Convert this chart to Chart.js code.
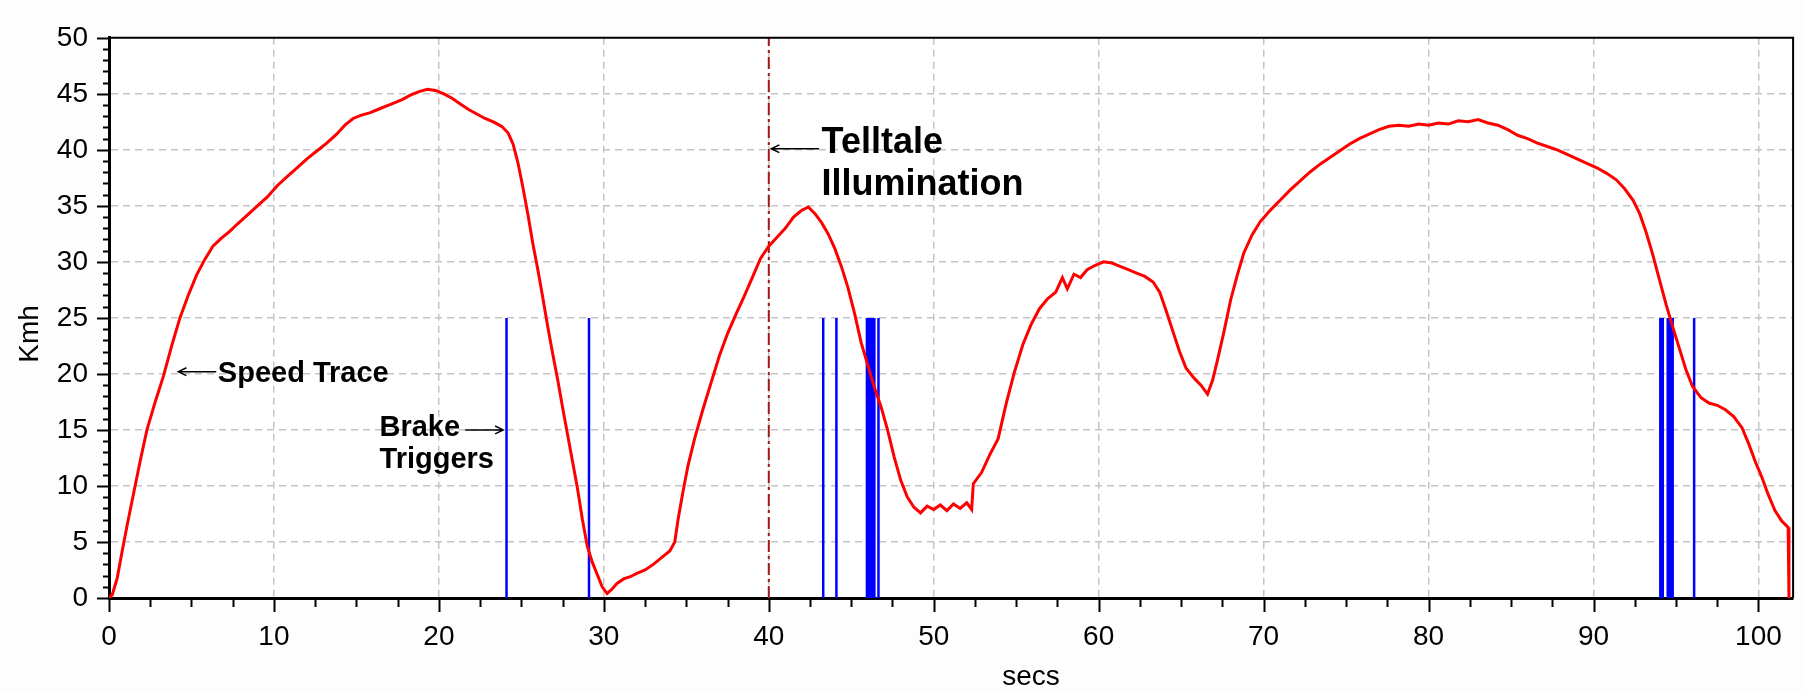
<!DOCTYPE html>
<html>
<head>
<meta charset="utf-8">
<script src="https://cdn.jsdelivr.net/npm/chart.js@4/dist/chart.umd.min.js"></script>
<style>
  html, body { margin: 0; padding: 0; background: #fff; }
</style>
</head>
<body>
<canvas id="speedChart" width="1804" height="691"></canvas>
<script>
// speed trace (secs, Kmh)
const secs = [
  0.0, 0.2, 0.5, 0.8, 1.1, 1.5, 1.9, 2.3, 2.8, 3.3, 3.8, 4.3, 4.8, 5.3, 5.8, 6.3, 6.8, 7.3, 7.8, 8.4,
  9.0, 9.6, 10.2, 10.8, 11.4, 12.0, 12.6, 13.2, 13.8, 14.3, 14.8, 15.3, 15.8, 16.3, 16.8, 17.3, 17.8, 18.3, 18.8, 19.3,
  19.8, 20.3, 20.8, 21.3, 21.8, 22.3, 22.8, 23.3, 23.8, 24.2, 24.5, 24.8, 25.1, 25.4, 25.7, 26.0, 26.3, 26.6, 26.9, 27.2,
  27.5, 27.8, 28.1, 28.4, 28.7, 29.0, 29.3, 29.6, 29.9, 30.2, 30.5, 30.8, 31.2, 31.6, 32.0, 32.5, 33.0, 33.5, 34.0, 34.3,
  34.5, 34.8, 35.1, 35.5, 36.0, 36.5, 37.0, 37.5, 38.0, 38.5, 39.0, 39.5, 40.0, 40.5, 41.0, 41.5, 42.0, 42.4, 42.8, 43.2,
  43.6, 44.0, 44.4, 44.8, 45.2, 45.6, 46.0, 46.4, 46.8, 47.2, 47.6, 48.0, 48.4, 48.8, 49.2, 49.6, 50.0, 50.4, 50.8, 51.2,
  51.6, 52.0, 52.3, 52.4, 52.9, 53.4, 53.9, 54.4, 54.9, 55.4, 55.9, 56.4, 56.9, 57.4, 57.8, 58.1, 58.5, 58.9, 59.3, 59.8,
  60.3, 60.8, 61.3, 61.8, 62.3, 62.8, 63.3, 63.7, 64.1, 64.5, 64.9, 65.3, 65.8, 66.2, 66.6, 66.9, 67.2, 67.6, 68.0, 68.4,
  68.8, 69.3, 69.8, 70.4, 71.0, 71.6, 72.2, 72.8, 73.4, 74.0, 74.6, 75.2, 75.8, 76.4, 77.0, 77.6, 78.2, 78.8, 79.4, 80.0,
  80.6, 81.2, 81.8, 82.4, 83.0, 83.6, 84.2, 84.8, 85.4, 86.0, 86.6, 87.2, 87.8, 88.4, 89.0, 89.6, 90.2, 90.8, 91.4, 91.9,
  92.4, 92.8, 93.2, 93.6, 94.0, 94.4, 94.8, 95.2, 95.6, 96.0, 96.5, 97.0, 97.5, 98.0, 98.5, 99.0, 99.4, 99.8, 100.2, 100.6,
  101.0, 101.4, 101.8, 101.85
];
const kmh = [
  0, 0.3, 1.8, 4.2, 6.5, 9.4, 12.3, 15, 17.5, 19.8, 22.5, 25, 27, 28.8, 30.2, 31.4, 32.1, 32.7, 33.4, 34.2,
  35.0, 35.8, 36.8, 37.6, 38.4, 39.2, 39.9, 40.6, 41.4, 42.2, 42.8, 43.1, 43.3, 43.6, 43.9, 44.2, 44.5, 44.9, 45.2, 45.4,
  45.3, 45.0, 44.6, 44.1, 43.6, 43.2, 42.8, 42.5, 42.1, 41.5, 40.5, 38.8, 36.6, 34.2, 31.6, 29.3, 26.8, 24.2, 21.8, 19.5,
  17.0, 14.6, 12.2, 9.8, 7.0, 4.6, 3.2, 2.1, 1.0, 0.4, 0.8, 1.3, 1.7, 1.9, 2.2, 2.5, 3.0, 3.6, 4.2, 5.0,
  7.0, 9.5, 11.8, 14.2, 16.8, 19.2, 21.6, 23.6, 25.3, 26.9, 28.6, 30.3, 31.4, 32.2, 33.0, 34.0, 34.6, 34.9, 34.3, 33.5,
  32.5, 31.2, 29.6, 27.7, 25.4, 22.8, 20.8, 18.8, 17.1, 15.0, 12.6, 10.5, 9.0, 8.1, 7.6, 8.2, 7.9, 8.3, 7.8, 8.4,
  8.0, 8.5, 7.9, 10.2, 11.2, 12.8, 14.2, 17.4, 20.2, 22.6, 24.4, 25.8, 26.7, 27.3, 28.6, 27.6, 28.9, 28.6, 29.3, 29.7,
  30.0, 29.9, 29.6, 29.3, 29.0, 28.7, 28.2, 27.3, 25.6, 23.8, 22.0, 20.5, 19.6, 19.0, 18.2, 19.4, 21.2, 23.8, 26.6, 28.8,
  30.8, 32.4, 33.6, 34.6, 35.5, 36.4, 37.2, 38.0, 38.7, 39.3, 39.9, 40.5, 41.0, 41.4, 41.8, 42.1, 42.2, 42.1, 42.3, 42.2,
  42.4, 42.3, 42.6, 42.5, 42.7, 42.4, 42.2, 41.8, 41.3, 41.0, 40.6, 40.3, 40.0, 39.6, 39.2, 38.8, 38.4, 37.9, 37.3, 36.5,
  35.5, 34.3, 32.6, 30.6, 28.4, 26.2, 24.2, 22.3, 20.4, 18.9, 17.9, 17.4, 17.2, 16.8, 16.2, 15.2, 13.8, 12.2, 10.8, 9.2,
  7.8, 6.9, 6.3, 0
];
const brakeTriggers = [24.1, 29.1, 43.3, 44.1, 45.95, 46.1, 46.25, 46.4, 46.65, 94.05, 94.2, 94.5, 94.65, 94.8, 96.1];
const brakeLevel = 25;
const telltaleSec = 40;
const xMax = 102.1;
const yMax = 50;

const speedPoints = secs.map((s, i) => ({ x: s, y: kmh[i] }));
const brakePoints = [];
brakeTriggers.forEach(t => {
  brakePoints.push({ x: t, y: 0 }, { x: t, y: brakeLevel }, { x: t, y: null });
});
const telltalePoints = [{ x: telltaleSec, y: 0 }, { x: telltaleSec, y: yMax }];

const FONT = "'Liberation Sans', Arial, sans-serif";

function arrow(ctx, x1, y1, x2, y2) {
  const ang = Math.atan2(y2 - y1, x2 - x1);
  ctx.beginPath();
  ctx.moveTo(x1, y1);
  ctx.lineTo(x2, y2);
  ctx.moveTo(x2 - 9 * Math.cos(ang - 0.45), y2 - 9 * Math.sin(ang - 0.45));
  ctx.lineTo(x2, y2);
  ctx.lineTo(x2 - 9 * Math.cos(ang + 0.45), y2 - 9 * Math.sin(ang + 0.45));
  ctx.stroke();
}

// frame, tick marks, axis titles and the text callouts
const decorations = {
  id: 'decorations',
  afterDraw(chart) {
    const { ctx, chartArea: a } = chart;
    const x = chart.scales.x, y = chart.scales.y;
    ctx.save();

    ctx.strokeStyle = '#000';
    ctx.lineWidth = 2;
    ctx.beginPath();
    ctx.moveTo(a.left, a.top);
    ctx.lineTo(a.right, a.top);
    ctx.lineTo(a.right, a.bottom);
    ctx.stroke();

    // x ticks: major every 10, minor every 2.5
    for (let v = 0; v <= xMax; v += 2.5) {
      const px = Math.round(x.getPixelForValue(v)) + 0.5;
      const major = v % 10 === 0;
      ctx.lineWidth = 2;
      ctx.beginPath();
      ctx.moveTo(px, a.bottom);
      ctx.lineTo(px, a.bottom + (major ? 14 : 9));
      ctx.stroke();
    }
    // y ticks: major every 5, minor every 1
    for (let v = 0; v <= yMax; v += 1) {
      const py = Math.round(y.getPixelForValue(v)) + 0.5;
      const major = v % 5 === 0;
      ctx.lineWidth = 2;
      ctx.beginPath();
      ctx.moveTo(a.left, py);
      ctx.lineTo(a.left - (major ? 12 : 6), py);
      ctx.stroke();
    }

    // axis titles
    ctx.fillStyle = '#000';
    ctx.font = '28px ' + FONT;
    ctx.textAlign = 'center';
    ctx.textBaseline = 'middle';
    ctx.fillText('secs', x.getPixelForValue(55.9), a.bottom + 79);
    ctx.save();
    ctx.translate(30, 334);
    ctx.rotate(-Math.PI / 2);
    ctx.fillText('Kmh', 0, 0);
    ctx.restore();

    // callouts
    ctx.textAlign = 'left';
    ctx.textBaseline = 'alphabetic';
    ctx.lineWidth = 1.5;

    ctx.font = 'bold 29px ' + FONT;
    ctx.fillText('Speed Trace', x.getPixelForValue(6.6), y.getPixelForValue(19.3));
    arrow(ctx, x.getPixelForValue(6.5), y.getPixelForValue(20.2), x.getPixelForValue(4.2), y.getPixelForValue(20.2));

    ctx.fillText('Brake', x.getPixelForValue(16.4), y.getPixelForValue(14.5));
    ctx.fillText('Triggers', x.getPixelForValue(16.4), y.getPixelForValue(11.6));
    arrow(ctx, x.getPixelForValue(21.6), y.getPixelForValue(15), x.getPixelForValue(23.9), y.getPixelForValue(15));

    ctx.font = 'bold 36px ' + FONT;
    ctx.fillText('Telltale', x.getPixelForValue(43.2), y.getPixelForValue(39.7));
    ctx.fillText('Illumination', x.getPixelForValue(43.2), y.getPixelForValue(36.0));
    arrow(ctx, x.getPixelForValue(43.05), y.getPixelForValue(40.1), x.getPixelForValue(40.15), y.getPixelForValue(40.1));

    ctx.restore();
  }
};

const bgPlugin = {
  id: 'bg',
  beforeDraw(chart) {
    const ctx = chart.ctx;
    ctx.save();
    ctx.fillStyle = '#fdfdfd';
    ctx.fillRect(0, 0, chart.width, chart.height);
    ctx.fillStyle = '#ffffff';
    const a = chart.chartArea;
    ctx.fillRect(a.left, a.top, a.right - a.left, a.bottom - a.top);
    ctx.restore();
  }
};

new Chart(document.getElementById('speedChart'), {
  type: 'line',
  data: {
    datasets: [
      {
        label: 'Speed',
        data: speedPoints,
        borderColor: '#ff0000',
        borderWidth: 3,
        pointRadius: 0,
        tension: 0,
      },
      {
        label: 'Brake Triggers',
        data: brakePoints,
        borderColor: '#0000ff',
        borderWidth: 2.5,
        pointRadius: 0,
        spanGaps: false,
      },
      {
        label: 'Telltale',
        data: telltalePoints,
        borderColor: '#a01818',
        borderWidth: 2,
        borderDash: [12, 4, 3, 4],
        pointRadius: 0,
      },
    ],
  },
  options: {
    responsive: false,
    animation: false,
    layout: { padding: { top: 23, right: 9, left: 0, bottom: 0 } },
    plugins: {
      legend: { display: false },
      tooltip: { enabled: false },
    },
    scales: {
      x: {
        type: 'linear',
        min: 0,
        max: xMax,
        afterFit(scale) { scale.height = 93; },
        ticks: {
          stepSize: 10,
          includeBounds: false,
          maxRotation: 0,
          padding: 22,
          color: '#000',
          font: { family: FONT, size: 28 },
        },
        grid: { color: '#c4c4c4', lineWidth: 1.5, drawTicks: false },
        border: { display: true, color: '#000', width: 3, dash: [7, 5] },
      },
      y: {
        min: 0,
        max: yMax,
        afterFit(scale) { scale.width = 109; },
        ticks: {
          stepSize: 5,
          padding: 21,
          color: '#000',
          font: { family: FONT, size: 28 },
        },
        grid: { color: '#c4c4c4', lineWidth: 1.5, drawTicks: false },
        border: { display: true, color: '#000', width: 3, dash: [7, 5] },
      },
    },
  },
  plugins: [bgPlugin, decorations],
});
</script>
</body>
</html>
